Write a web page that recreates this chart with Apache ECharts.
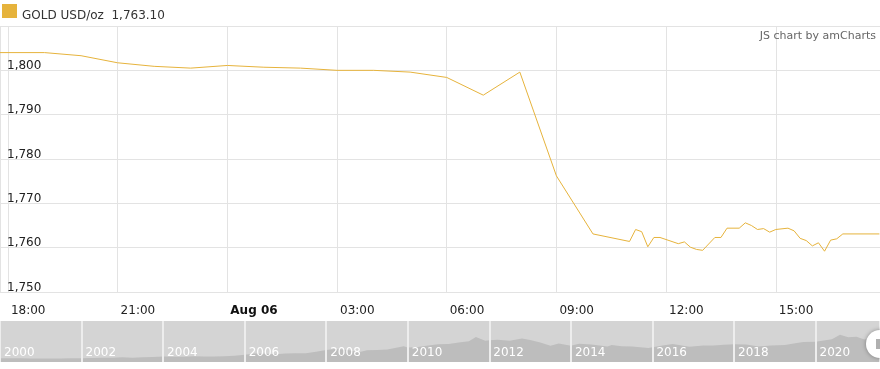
<!DOCTYPE html>
<html><head><meta charset="utf-8">
<script src="https://cdn.jsdelivr.net/npm/echarts@6/dist/echarts.min.js"></script>
<style>html,body{margin:0;padding:0;background:#fff}#c{width:880px;height:369px}</style>
</head><body><div id="c"></div>
<script>
const seriesName = 'GOLD USD/oz';
const lastValueText = '1,763.10';
const times = ['08-05 17:00','08-05 19:00','08-05 20:00','08-05 21:00','08-05 22:00','08-05 23:00',
  '08-06 00:00','08-06 01:00','08-06 02:00','08-06 03:00','08-06 04:00','08-06 05:00','08-06 06:00',
  '08-06 07:00','08-06 08:00','08-06 09:00','08-06 10:00','08-06 11:00','08-06 11:10','08-06 11:20',
  '08-06 11:30','08-06 11:40','08-06 11:50','08-06 12:20','08-06 12:30','08-06 12:40','08-06 12:50',
  '08-06 13:00','08-06 13:20','08-06 13:30','08-06 13:40','08-06 14:00','08-06 14:10','08-06 14:20',
  '08-06 14:30','08-06 14:40','08-06 14:50','08-06 15:00','08-06 15:20','08-06 15:30','08-06 15:40',
  '08-06 15:50','08-06 16:00','08-06 16:10','08-06 16:20','08-06 16:30','08-06 16:40','08-06 16:50',
  '08-06 17:50'];
const prices = [1804.0,1804.0,1803.3,1801.7,1800.9,1800.5,
  1801.1,1800.7,1800.5,1800.0,1800.0,1799.6,1798.4,
  1794.4,1799.6,1776.2,1763.1,1761.4,1764.1,1763.6,
  1760.2,1762.3,1762.3,1760.9,1761.3,1760.1,1759.6,
  1759.4,1762.3,1762.3,1764.4,1764.4,1765.6,1765.0,
  1764.1,1764.3,1763.5,1764.1,1764.4,1763.8,1762.1,
  1761.6,1760.4,1761.1,1759.2,1761.7,1762.0,1763.1,
  1763.1];
const yMin = 1750, yMax = 1810, yStep = 10;
const axisStart = '08-05 17:47', axisEnd = '08-06 17:51';
const xTickHours = 3;

// navigator (long-term history)
const navYears = [2000.0,2000.25,2000.5,2000.75,2001.0,2001.25,2001.5,2001.75,2002.0,2002.25,2002.5,2002.75,
  2003.0,2003.25,2003.5,2003.75,2004.0,2004.25,2004.5,2004.75,2005.0,2005.25,2005.5,2005.75,2006.0,2006.25,
  2006.5,2006.75,2007.0,2007.25,2007.5,2007.75,2008.0,2008.2,2008.5,2008.8,2009.0,2009.25,2009.5,2009.9,
  2010.0,2010.25,2010.5,2010.75,2011.0,2011.25,2011.5,2011.67,2011.9,2012.0,2012.2,2012.5,2012.8,2013.0,
  2013.25,2013.5,2013.7,2014.0,2014.2,2014.5,2014.9,2015.0,2015.25,2015.5,2015.9,2016.25,2016.5,2016.9,
  2017.25,2017.5,2017.75,2018.0,2018.3,2018.6,2018.9,2019.25,2019.5,2019.7,2020.0,2020.2,2020.4,2020.6,
  2020.8,2021.0,2021.2,2021.4,2021.6];
const navPrices = [290,280,285,270,265,260,270,280,285,305,315,320,
  355,330,350,385,410,395,400,430,425,425,435,470,550,650,
  630,590,640,670,670,780,900,980,920,740,880,910,940,1200,
  1100,1130,1240,1340,1360,1470,1560,1890,1600,1650,1680,1600,1780,1670,
  1470,1230,1400,1220,1380,1320,1180,1280,1190,1170,1060,1250,1360,1150,
  1250,1240,1300,1340,1330,1180,1240,1290,1420,1520,1540,1620,1720,2060,
  1880,1900,1700,1880,1800];
const navMin = 2000, navMax = 2021.58, navStep = 2;

// x unit = half a tick step (so the tick step is a "nice" 2 units), origin 18:00 Aug 5
const UNIT_MIN = xTickHours * 60 / 2;
function toX(s){
  const [md, hm] = s.split(' ');
  const [mo, d] = md.split('-').map(Number);
  const [h, m] = hm.split(':').map(Number);
  const mins = (d - 5) * 1440 + h * 60 + m - 18 * 60;
  return mins / UNIT_MIN;
}
const pad = n => (n<10?'0':'')+n;
const mainData = times.map((t,i)=>[toX(t), prices[i]]);
const navData = navYears.map((y,i)=>[y, navPrices[i]]);

const GOLD = '#e6b33c';
const chart = echarts.init(document.getElementById('c'), null, {renderer:'canvas'});
chart.setOption({
  animation:false,
  textStyle:{fontFamily:'DejaVu Sans'},
  title:{text:'JS chart by amCharts', right:4, top:31, padding:0,
    textStyle:{fontSize:11, fontWeight:'normal', color:'#666', fontFamily:'DejaVu Sans'}},
  legend:{data:[seriesName], left:2, top:4, padding:0, icon:'rect', itemWidth:15, itemHeight:14, itemGap:6,
    formatter: n => '{t|' + n + '  ' + lastValueText + '}',
    textStyle:{fontSize:12, color:'#333', fontFamily:'DejaVu Sans',
      rich:{t:{fontSize:12, color:'#333', fontFamily:'DejaVu Sans', padding:[9,0,0,0]}}}},
  grid:[
    {left:-1, right:-1, top:26, bottom:77},
    {left:0, right:0, top:321, height:41, show:true, backgroundColor:'#d4d4d4', borderWidth:0}
  ],
  xAxis:[
    {type:'value', gridIndex:0, min:toX(axisStart), max:toX(axisEnd), splitNumber:8,
     axisLine:{show:false}, axisTick:{show:false},
     splitLine:{show:true, lineStyle:{color:'#e3e3e3', width:1}},
     axisLabel:{show:true, showMinLabel:false, showMaxLabel:false, hideOverlap:false,
       align:'left', margin:13, padding:[0,0,0,3], fontSize:12, color:'#222', fontFamily:'DejaVu Sans',
       formatter: v => { const tot = Math.round(v*UNIT_MIN) + 18*60; const h = Math.floor(tot/60)%24, m = ((tot%60)+60)%60;
         if(h===0 && m===0) return '{b|Aug 06}'; return pad(h)+':'+pad(m); },
       rich:{b:{fontWeight:'bold', fontSize:12, color:'#111', fontFamily:'DejaVu Sans'}}}},
    {type:'value', gridIndex:1, min:navMin, max:navMax, interval:navStep, z:5,
     axisLine:{show:false}, axisTick:{show:false},
     splitLine:{show:true, lineStyle:{color:'#ededed', width:2}},
     axisLabel:{inside:true, align:'left', margin:3, padding:[0,0,0,4], fontSize:12, color:'#fff',
       showMaxLabel:false, fontFamily:'DejaVu Sans', formatter: v => String(v)}}
  ],
  yAxis:[
    {type:'value', gridIndex:0, min:yMin, max:yMax, interval:yStep,
     axisLine:{show:false}, axisTick:{show:false},
     splitLine:{show:true, lineStyle:{color:'#e3e3e3', width:1}},
     axisLabel:{inside:true, margin:7, verticalAlign:'bottom', lineHeight:9, fontSize:12, color:'#222',
       fontFamily:'DejaVu Sans',
       formatter: v => v===yMax ? '' : v.toLocaleString('en-US')}},
    {type:'value', gridIndex:1, min:0, max:3100, show:false, splitLine:{show:false}}
  ],
  series:[
    {name:seriesName, type:'line', xAxisIndex:0, yAxisIndex:0, data:mainData, symbol:'none',
     color:GOLD, lineStyle:{width:1, color:GOLD}},
    {name:'nav', type:'line', xAxisIndex:1, yAxisIndex:1, data:navData, symbol:'none',
     lineStyle:{width:0}, areaStyle:{color:'#bdbdbd', opacity:1}, z:1}
  ],
  graphic:[
    {type:'circle', shape:{cx:880, cy:344, r:14}, style:{fill:'#fff', shadowBlur:4, shadowColor:'rgba(0,0,0,0.35)'}, z:100},
    {type:'rect', shape:{x:876, y:339, width:4, height:10}, style:{fill:'#b0b0b0'}, z:101}
  ]
});
</script></body></html>
